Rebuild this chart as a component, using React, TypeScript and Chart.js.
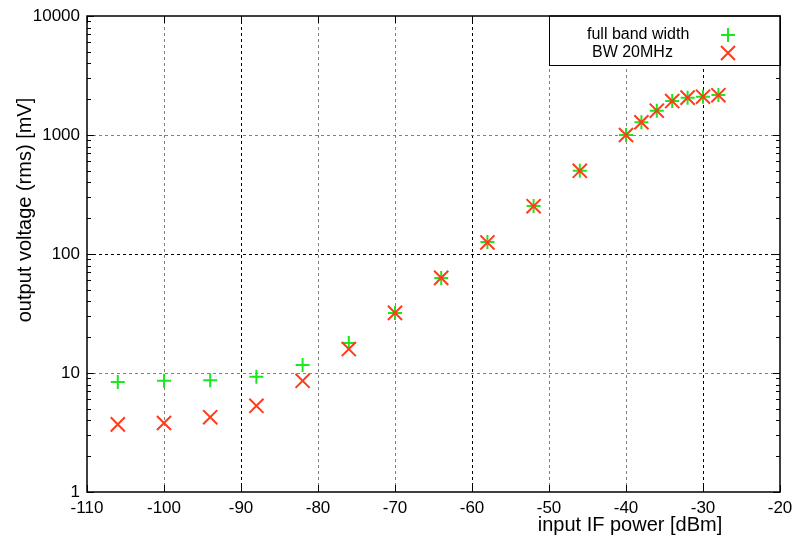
import React, { useEffect, useRef } from "react";
import { Chart, registerables } from "chart.js";

Chart.register(...registerables);

// ---- data ----
const inputPower = [-106, -100, -94, -88, -82, -76, -70, -64, -58, -52, -46, -40, -38, -36, -34, -32, -30, -28];
const fullBandWidth = [8.4, 8.6, 8.7, 9.3, 11.7, 17.9, 32, 63, 126, 253, 500, 1000, 1280, 1600, 1930, 2060, 2100, 2170];
const bw20MHz = [3.7, 3.8, 4.25, 5.3, 8.6, 15.9, 32, 63, 125, 252, 500, 1000, 1280, 1600, 1930, 2060, 2100, 2160];
const xTicks = [-110, -100, -90, -80, -70, -60, -50, -40, -30, -20];
const yTicks = [1, 10, 100, 1000, 10000];
const seriesLabels = ["full band width", "BW 20MHz"];
const xTitle = "input IF power [dBm]";
const yTitle = "output voltage (rms) [mV]";

const FONT = '"Liberation Sans", Arial, Helvetica, sans-serif';
const GREEN = "#1ee61e";
const RED = "#ff3b1a";
const darkX = [-90, -60, -30];
const darkY = [100];

function drawPlus(ctx: CanvasRenderingContext2D, x: number, y: number, r: number) {
  ctx.beginPath();
  ctx.moveTo(x - r, y);
  ctx.lineTo(x + r, y);
  ctx.moveTo(x, y - r);
  ctx.lineTo(x, y + r);
  ctx.stroke();
}
function drawX(ctx: CanvasRenderingContext2D, x: number, y: number, r: number) {
  ctx.beginPath();
  ctx.moveTo(x - r, y - r);
  ctx.lineTo(x + r, y + r);
  ctx.moveTo(x - r, y + r);
  ctx.lineTo(x + r, y - r);
  ctx.stroke();
}

const framePlugin = {
  id: "gnuframe",
  beforeDatasetsDraw(chart: any) {
    const { ctx, chartArea: a, scales } = chart;
    const xs = scales.x;
    const ys = scales.y;
    ctx.save();
    ctx.lineWidth = 1;
    ctx.setLineDash([3, 3]);
    for (const v of xTicks) {
      if (v === xTicks[0] || v === xTicks[xTicks.length - 1]) continue;
      const px = Math.round(xs.getPixelForValue(v)) + 0.5;
      ctx.strokeStyle = darkX.includes(v) ? "#000000" : "#808080";
      ctx.beginPath();
      ctx.moveTo(px, a.bottom);
      ctx.lineTo(px, a.top);
      ctx.stroke();
    }
    for (const v of yTicks) {
      if (v === yTicks[0] || v === yTicks[yTicks.length - 1]) continue;
      const py = Math.round(ys.getPixelForValue(v)) + 0.5;
      ctx.strokeStyle = darkY.includes(v) ? "#000000" : "#808080";
      ctx.beginPath();
      ctx.moveTo(a.left, py);
      ctx.lineTo(a.right, py);
      ctx.stroke();
    }
    ctx.restore();
  },
  afterDraw(chart: any) {
    const { ctx, chartArea: a, scales } = chart;
    const xs = scales.x;
    const ys = scales.y;
    ctx.save();
    ctx.setLineDash([]);
    ctx.strokeStyle = "#000";
    ctx.lineWidth = 1;
    // major ticks
    for (const v of xTicks) {
      const px = Math.round(xs.getPixelForValue(v)) + 0.5;
      ctx.beginPath();
      ctx.moveTo(px, a.bottom);
      ctx.lineTo(px, a.bottom - 7);
      ctx.moveTo(px, a.top);
      ctx.lineTo(px, a.top + 7);
      ctx.stroke();
    }
    for (const v of yTicks) {
      const py = Math.round(ys.getPixelForValue(v)) + 0.5;
      ctx.beginPath();
      ctx.moveTo(a.left, py);
      ctx.lineTo(a.left + 7, py);
      ctx.moveTo(a.right, py);
      ctx.lineTo(a.right - 7, py);
      ctx.stroke();
    }
    // minor ticks (log)
    for (let i = 0; i < yTicks.length - 1; i++) {
      for (let k = 2; k <= 9; k++) {
        const py = Math.round(ys.getPixelForValue(yTicks[i] * k)) + 0.5;
        ctx.beginPath();
        ctx.moveTo(a.left, py);
        ctx.lineTo(a.left + 4, py);
        ctx.moveTo(a.right, py);
        ctx.lineTo(a.right - 4, py);
        ctx.stroke();
      }
    }
    // legend box
    const bx = a.right - 231;
    const by = a.top;
    ctx.fillStyle = "#fff";
    ctx.fillRect(bx, by, a.right - bx, 49);
    ctx.strokeStyle = "#000";
    ctx.lineWidth = 1;
    ctx.strokeRect(Math.round(bx) + 0.5, by, a.right - bx, 49.5);
    ctx.fillStyle = "#000";
    ctx.font = `16px ${FONT}`;
    ctx.textBaseline = "middle";
    ctx.textAlign = "left";
    ctx.fillText(seriesLabels[0], bx + 38, by + 19);
    ctx.fillText(seriesLabels[1], bx + 43, by + 37);
    ctx.lineWidth = 2;
    ctx.strokeStyle = GREEN;
    drawPlus(ctx, bx + 179, by + 19, 7);
    ctx.strokeStyle = RED;
    drawX(ctx, bx + 179, by + 37, 7);
    // frame
    ctx.strokeStyle = "#000";
    ctx.lineWidth = 1.5;
    ctx.strokeRect(a.left, a.top, a.right - a.left, a.bottom - a.top);
    // axis titles
    ctx.fillStyle = "#000";
    ctx.font = `20px ${FONT}`;
    ctx.textAlign = "center";
    ctx.textBaseline = "middle";
    ctx.fillText(xTitle, 630, 525);
    ctx.translate(25, 210);
    ctx.rotate(-Math.PI / 2);
    ctx.fillText(yTitle, 0, 0);
    ctx.restore();
  },
};

export default function App() {
  const ref = useRef<HTMLCanvasElement | null>(null);
  useEffect(() => {
    if (!ref.current) return;
    const chart = new Chart(ref.current, {
      type: "scatter",
      data: {
        datasets: [
          {
            label: seriesLabels[0],
            data: inputPower.map((x, i) => ({ x, y: fullBandWidth[i] })),
            pointStyle: "cross",
            pointRadius: 7,
            pointHoverRadius: 7,
            borderColor: GREEN,
            backgroundColor: GREEN,
            pointBorderWidth: 2,
            borderWidth: 2,
            order: 1,
          },
          {
            label: seriesLabels[1],
            data: inputPower.map((x, i) => ({ x, y: bw20MHz[i] })),
            pointStyle: "crossRot",
            pointRadius: 10,
            pointHoverRadius: 10,
            borderColor: RED,
            backgroundColor: RED,
            pointBorderWidth: 2,
            borderWidth: 2,
            order: 0,
          },
        ],
      },
      options: {
        responsive: false,
        animation: false,
        events: [],
        layout: { padding: { left: 0, right: 15, top: 16, bottom: 0 } },
        plugins: { legend: { display: false }, tooltip: { enabled: false } },
        scales: {
          x: {
            type: "linear",
            min: xTicks[0],
            max: xTicks[xTicks.length - 1],
            afterBuildTicks: (s: any) => {
              s.ticks = xTicks.map((v) => ({ value: v }));
            },
            afterFit: (s: any) => {
              s.height = 45;
              s.paddingLeft = 0;
              s.paddingRight = 0;
            },
            grid: { display: false, drawTicks: false },
            border: { display: false },
            ticks: {
              autoSkip: false,
              maxRotation: 0,
              padding: 6,
              color: "#000",
              font: { family: FONT, size: 17 },
              callback: (v: any) => String(v),
            },
          },
          y: {
            type: "logarithmic",
            min: yTicks[0],
            max: yTicks[yTicks.length - 1],
            afterBuildTicks: (s: any) => {
              s.ticks = yTicks.map((v) => ({ value: v }));
            },
            afterFit: (s: any) => {
              s.width = 87;
              s.paddingTop = 0;
              s.paddingBottom = 0;
            },
            grid: { display: false, drawTicks: false },
            border: { display: false },
            ticks: {
              autoSkip: false,
              padding: 7,
              color: "#000",
              font: { family: FONT, size: 17 },
              callback: (v: any) => String(v),
            },
          },
        },
      },
      plugins: [framePlugin],
    });
    return () => chart.destroy();
  }, []);
  return (
    <canvas
      ref={ref}
      width={795}
      height={537}
      style={{ position: "fixed", left: 0, top: 0, width: 795, height: 537, display: "block" }}
    />
  );
}
